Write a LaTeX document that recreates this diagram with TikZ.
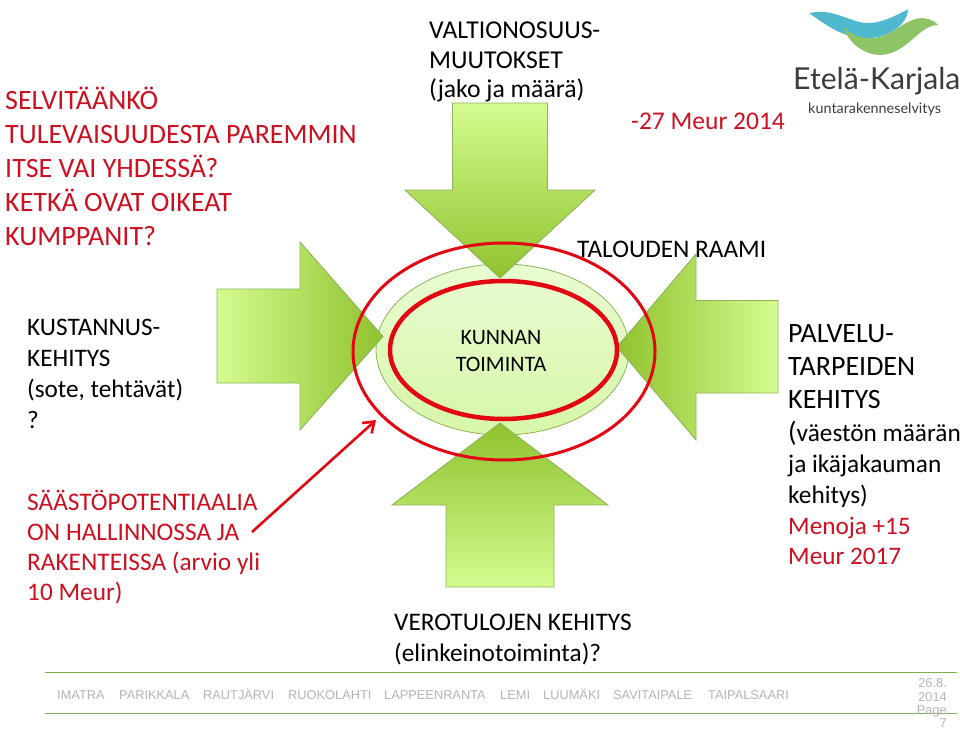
\documentclass[tikz,border=0pt]{standalone}
\usepackage{fontspec}
\setmainfont{Carlito}
\newfontfamily\helv{Liberation Sans}
\newfontfamily\logof{Lato}
\usetikzlibrary{arrows.meta,shapes.geometric}
\definecolor{txtred}{HTML}{CC1020}
\definecolor{ringred}{HTML}{E30613}
\definecolor{glight}{HTML}{D4FC90}
\definecolor{gmid}{HTML}{C2EA7A}
\definecolor{gdark}{HTML}{90C22E}
\definecolor{gedge}{HTML}{8FB25A}
\definecolor{corelight}{HTML}{E9FBD2}
\definecolor{coredark}{HTML}{D6F7A8}
\definecolor{footgray}{HTML}{B4B4B4}
\definecolor{footgreen}{HTML}{7CAF50}
\definecolor{logoblue}{HTML}{4FB8CE}
\definecolor{logogreen}{HTML}{8CC466}
\definecolor{logotext}{HTML}{3C3C3C}
\newcommand{\fs}[2]{\fontsize{#1}{#2}\selectfont}
\tikzset{
  x=1pt,y=-1pt,
  block/.style={anchor=north west,inner sep=0pt,align=left,text=black},
  redblock/.style={block,text=txtred},
  arrowshape/.style={draw=gedge,line width=0.9pt,line join=miter},
  footitem/.style={anchor=base west,inner sep=0pt,text=footgray,font=\helv\fs{12.8}{16}},
  footrule/.style={draw=footgreen,line width=1.4pt},
  ring/.style={ellipse,draw=ringred,inner sep=0pt},
}
\begin{document}
\begin{tikzpicture}
\useasboundingbox (0,0) rectangle (960,728);
% centre ellipse
\node[ellipse,draw=gedge,line width=0.8pt,top color=corelight,bottom color=coredark,minimum width=253pt,minimum height=171pt,inner sep=0pt] (core) at (502.5,349.5) {};
% block arrows
\shadedraw[arrowshape,top color=glight,middle color=gmid,bottom color=gdark]
  (452.5,103) -- (547.5,103) -- (547.5,190) -- (595,190) -- (500,278) -- (405,190) -- (452.5,190) -- cycle;
\shadedraw[arrowshape,bottom color=glight,middle color=gmid,top color=gdark]
  (446,587) -- (554,587) -- (554,505) -- (608,505) -- (500,423) -- (392,505) -- (446,505) -- cycle;
\shadedraw[arrowshape,left color=glight,middle color=gmid,right color=gdark]
  (217,289) -- (300,289) -- (300,242) -- (383,336.5) -- (300,430) -- (300,383) -- (217,383) -- cycle;
\shadedraw[arrowshape,right color=glight,middle color=gmid,left color=gdark]
  (778,300.5) -- (696,300.5) -- (696,254) -- (617,347) -- (696,440) -- (696,393) -- (778,393) -- cycle;
% red rings
\node[ring,line width=4.5pt,minimum width=227pt,minimum height=138pt] (innerring) at (503.5,350) {};
\node[ring,line width=3pt,minimum width=302pt,minimum height=217pt] (outerring) at (504,351.5) {};
% centre label
\node[inner sep=0pt,align=center,font=\fs{22}{27.5}] (corelabel) at (501,351) {KUNNAN\\TOIMINTA};
% texts
\node[redblock,font=\fs{28}{34}] (question) at (5,87) {SELVITÄÄNKÖ\\TULEVAISUUDESTA PAREMMIN\\ITSE VAI YHDESSÄ?\\KETKÄ OVAT OIKEAT\\KUMPPANIT?};
\node[block,font=\fs{25.7}{29.5}] (valtio) at (429,22) {VALTIONOSUUS-\\MUUTOKSET\\(jako ja määrä)};
\node[redblock,font=\fs{25.5}{29}] (meur) at (631,113) {-27 Meur 2014};
\node[block,font=\fs{25.3}{30}] (raami) at (577,241) {TALOUDEN RAAMI};
\node[block,font=\fs{25.2}{31}] (kustannus) at (27,319) {KUSTANNUS-\\KEHITYS\\(sote, tehtävät)\\?};
\node[redblock,font=\fs{25.3}{30}] (saasto) at (27,490) {SÄÄSTÖPOTENTIAALIA\\ON HALLINNOSSA JA\\RAKENTEISSA (arvio yli\\10 Meur)};
\node[block,font=\fs{25.3}{31}] (vero) at (394,614) {VEROTULOJEN KEHITYS\\(elinkeinotoiminta)?};
\node[block,font=\fs{28}{33}] (palvelu) at (788,324) {PALVELU-\\TARPEIDEN\\KEHITYS};
\node[block,font=\fs{25.3}{31}] (vaesto) at (788,421) {{\fs{28}{31}(}väestön määrän\\ja ikäjakauman\\kehitys)};
\node[redblock,font=\fs{25.2}{30}] (menoja) at (788,517) {Menoja +15\\Meur 2017};
% red connector
\coordinate (arrowstart) at (252,532);
\coordinate (arrowend) at (376,420);
\draw[ringred,line width=2.6pt,-{Straight Barb[length=10pt,width=14pt,line width=2.6pt]}] (arrowstart) -- (arrowend);
% footer
\draw[footrule] (45,672.7) coordinate (ruleaL) -- (957,672.7) coordinate (ruleaR);
\draw[footrule] (45,713.5) coordinate (rulebL) -- (957,713.5) coordinate (rulebR);
\node[footitem] (f1) at (57,699) {IMATRA};
\node[footitem] (f2) at (119,699) {PARIKKALA};
\node[footitem] (f3) at (203,699) {RAUTJÄRVI};
\node[footitem] (f4) at (288,699) {RUOKOLAHTI};
\node[footitem] (f5) at (384,699) {LAPPEENRANTA};
\node[footitem] (f6) at (500,699) {LEMI};
\node[footitem] (f7) at (543,699) {LUUMÄKI};
\node[footitem] (f8) at (613,699) {SAVITAIPALE};
\node[footitem] (f9) at (708,699) {TAIPALSAARI};
\node[footitem,anchor=base east] (d1) at (947,687) {26.8.};
\node[footitem,anchor=base east] (d2) at (947,701) {2014};
\node[footitem,anchor=base east] (d3) at (947,714) {Page};
\node[footitem,anchor=base east] (d4) at (947,727) {7};
% logo
\fill[logoblue] (809.3,13.3) .. controls (830,7) and (850,22) .. (866,23) .. controls (880,24) and (895,16) .. (908.3,9.3)
  .. controls (907,24) and (890,38) .. (866.7,38.3) .. controls (842,38) and (825,24) .. (809.3,13.3) -- cycle;
\fill[logogreen] (843.3,26.7) .. controls (848,44) and (866,55) .. (880,55) .. controls (908,54) and (918,25) .. (938.3,25)
  .. controls (925,13) and (912,18) .. (895,30) .. controls (878,41) and (858,42) .. (843.3,26.7) -- cycle;
\node[anchor=base west,inner sep=0pt,text=logotext,font=\logof\fs{30.2}{36}] (logoname) at (793,89) {Etelä-Karjala};
\node[anchor=base west,inner sep=0pt,text=logotext,font=\logof\fs{14.4}{16}] (logosub) at (808,113) {kuntarakenneselvitys};
\end{tikzpicture}
\end{document}
